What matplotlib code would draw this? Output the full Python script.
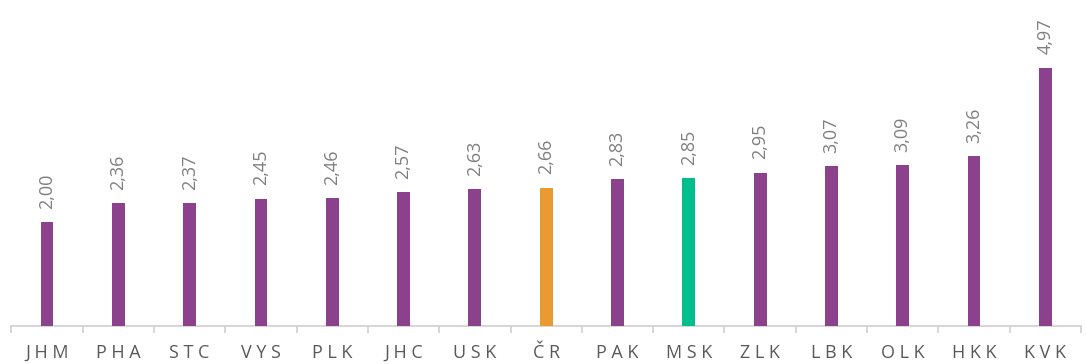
import matplotlib
matplotlib.use("Agg")
import matplotlib.pyplot as plt

regions = ["JHM", "PHA", "STC", "VYS", "PLK", "JHC", "USK", "ČR", "PAK", "MSK",
           "ZLK", "LBK", "OLK", "HKK", "KVK"]
values = [2.00, 2.36, 2.37, 2.45, 2.46, 2.57, 2.63, 2.66, 2.83, 2.85,
          2.95, 3.07, 3.09, 3.26, 4.97]
purple = "#8B418B"
highlight = {"ČR": "#EA9A2E", "MSK": "#00BF8C"}
colors = [highlight.get(r, purple) for r in regions]

plt.rcParams['font.family'] = ['Open Sans', 'DejaVu Sans']

fig = plt.figure(figsize=(10.86, 3.64), dpi=100)
ax = fig.add_axes([11.4 / 1086, 1 - 326 / 364, (1081 - 11.4) / 1086, 326 / 364])

x = list(range(len(regions)))
ax.bar(x, values, width=0.18, color=colors, zorder=3)

for xi, v in zip(x, values):
    ax.annotate(f"{v:.2f}".replace(".", ","), (xi, v), xytext=(0, 9.5),
                textcoords="offset points", rotation=90, ha="center", va="bottom",
                fontsize=13, color="#7F7F7F")

ax.set_xlim(-0.5, len(regions) - 0.5)
ax.set_ylim(0, 326 / 52)

for s in ["top", "right", "left"]:
    ax.spines[s].set_visible(False)
ax.spines["bottom"].set_color("#D0D0D0")
ax.spines["bottom"].set_linewidth(1.2)
ax.set_yticks([])

# category separators as major ticks, region codes as minor tick labels
ax.set_xticks([i - 0.5 for i in range(len(regions) + 1)], minor=False)
ax.set_xticklabels([])
ax.tick_params(axis="x", which="major", length=5, width=1.2, color="#D0D0D0")
ax.set_xticks(x, minor=True)
ax.set_xticklabels([" ".join(r) for r in regions], minor=True, va="baseline")
ax.tick_params(axis="x", which="minor", length=0, pad=23, labelsize=13,
               labelcolor="#595959")

fig.savefig("out.png", dpi=100)
